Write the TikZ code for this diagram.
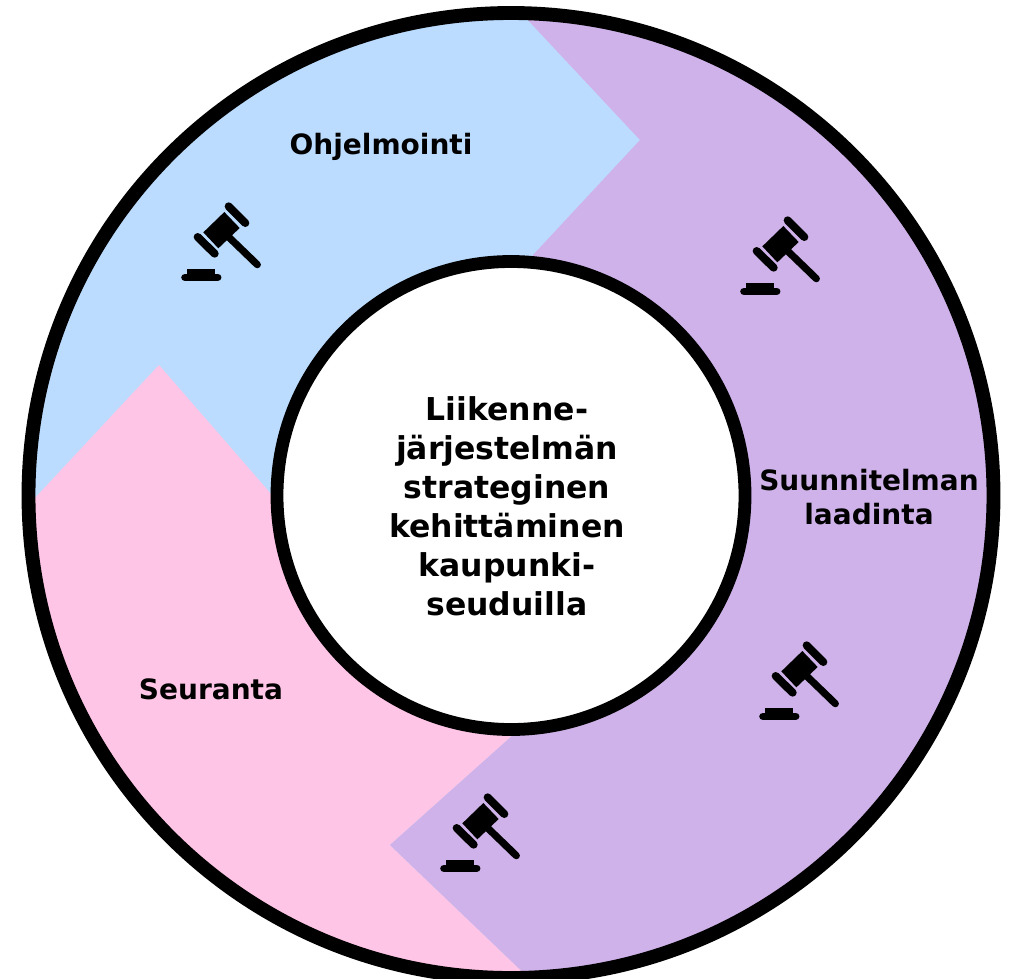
\documentclass[tikz,border=0pt]{standalone}
\usepackage{fontspec}
\setmainfont{DejaVu Sans}
\definecolor{ringblue}{HTML}{BBDCFE}
\definecolor{ringpink}{HTML}{FEC5E6}
\definecolor{ringpurple}{HTML}{CFB2E9}
\tikzset{
  x=0.75pt,y=-0.75pt,
  ringline/.style={draw=black,line width=10.4pt},
  innerline/.style={draw=black,line width=9.6pt},
  centertext/.style={font=\bfseries\fontsize{23.6}{29.3}\selectfont,align=center,text=black,inner sep=0pt},
  labeltext/.style={font=\bfseries\fontsize{21}{25.5}\selectfont,align=center,text=black,inner sep=0pt},
  gavel/.pic={
    \begin{scope}[x=0.25pt,y=-0.25pt]
      \fill[black] (163,66) -- (209,114) -- (145,175) -- (100,127) -- cycle;
      \draw[black,line width=6pt,line cap=round] (176,49) -- (226,99);
      \draw[black,line width=6pt,line cap=round] (83,141) -- (134,191);
      \draw[black,line width=5.4pt,line cap=round] (175,140) -- (262,224);
      \draw[black,line width=5.7pt,line cap=round] (45,262) -- (143,262);
      \fill[black] (52,238) -- (135,238) -- (135,255) -- (52,255) -- cycle;
    \end{scope}
  }
}
\begin{document}
\begin{tikzpicture}
\useasboundingbox (0,0) rectangle (1015,979);
\fill[white] (0,0) rectangle (1015,979);
\coordinate (c) at (511,495.5);
\begin{scope}
  \clip (c) circle[radius=482.5];
  \fill[ringblue] (0,0) rectangle (1015,979);
  \fill[ringpink] (20,514) -- (159,365) -- (272,495) -- (511,495) -- (513,735) -- (390,845) -- (530,979) -- (0,979) -- (0,514) -- cycle;
  \fill[ringpurple] (510,1) -- (640,140) -- (533,255) -- (511,495) -- (513,735) -- (390,845) -- (530,979) -- (1015,979) -- (1015,0) -- (510,0) -- cycle;
\end{scope}
\fill[white] (c) circle[radius=234];
\draw[ringline] (c) circle[radius=482.5];
\draw[innerline] (c) circle[radius=234];
\pic (g1) at (170,190) {gavel};
\pic (g2) at (729,204) {gavel};
\pic (g3) at (748,629) {gavel};
\pic (g4) at (429,781) {gavel};
\node[centertext] (title) at (507,506.5) {Liikenne-\\järjestelmän\\strateginen\\kehittäminen\\kaupunki-\\seuduilla};
\node[labeltext] (ohj) at (381,147) {Ohjelmointi};
\node[labeltext] (suu) at (869,497) {Suunnitelman\\laadinta};
\node[labeltext] (seu) at (211,689) {Seuranta};
\end{tikzpicture}
\end{document}
